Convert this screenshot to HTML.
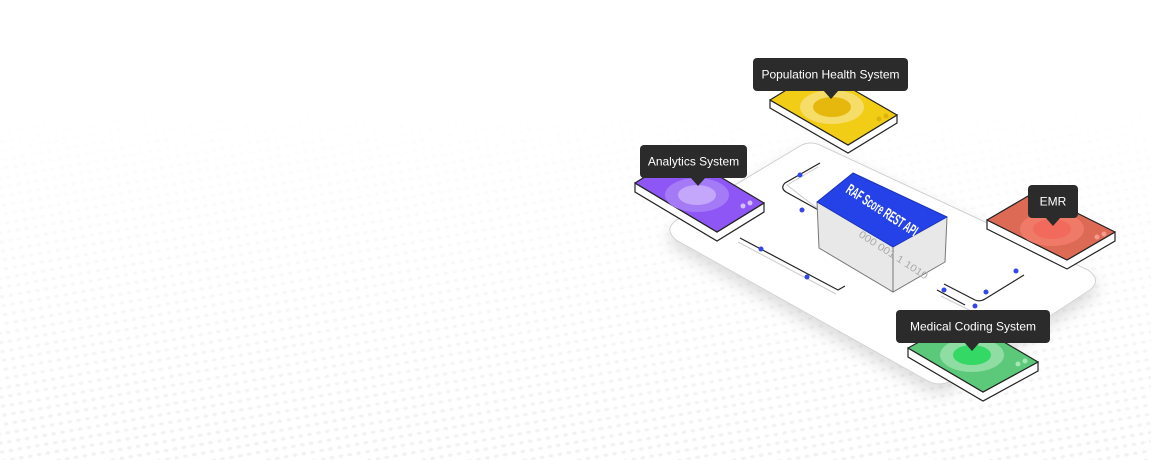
<!DOCTYPE html>
<html><head><meta charset="utf-8"><style>
html,body{margin:0;padding:0;background:#fff;}
svg{display:block}
text{font-family:"Liberation Sans",sans-serif;}
</style></head><body>
<svg width="1151" height="460" viewBox="0 0 1151 460" xmlns="http://www.w3.org/2000/svg">
<defs>
<pattern id="dots" width="9" height="9" patternUnits="userSpaceOnUse" patternTransform="rotate(-10)">
<ellipse cx="4.5" cy="4.5" rx="2.4" ry="1.7" fill="#ececec"/>
</pattern>
<linearGradient id="fade" x1="0" y1="0" x2="0" y2="1">
<stop offset="0.2" stop-color="#fff" stop-opacity="0"/>
<stop offset="1" stop-color="#fff" stop-opacity="1"/>
</linearGradient>
<mask id="m"><rect width="1151" height="460" fill="url(#fade)"/></mask>
<filter id="sh" x="-20%" y="-20%" width="140%" height="160%"><feDropShadow dx="0" dy="8" stdDeviation="8" flood-color="#000" flood-opacity="0.14"/></filter>
</defs>
<rect width="1151" height="460" fill="#fff"/>
<rect y="90" width="1151" height="370" fill="url(#dots)" mask="url(#m)" opacity="0.7"/>

<!-- platform -->
<path d="M680,218 L800,146 Q810,140 822,146 L1088,270 Q1102,280 1090,290 L952,380 Q940,388 926,380 L676,240 Q662,228 680,218 Z" fill="#fff" stroke="#d0d0d0" stroke-width="1" filter="url(#sh)"/>

<!-- connectors -->
<g fill="none" stroke="#222" stroke-width="1.2">
<path d="M820,163 L785,183 Q780,188 786,192 L840,222"/>
<path d="M740,238 L838,290 L845,286"/>
<path d="M944,284 L975,300 Q980,302 985,299 L1024,275"/>
<path d="M937,290 L965,305"/>
</g>
<g fill="none" stroke="#ccc" stroke-width="1">
<path d="M818,167 L787,185 L840,226"/>
<path d="M738,242 L836,294"/>
<path d="M941,296 L975,313"/>
</g>
<g fill="#3346e6">
<circle cx="800" cy="175" r="2.5"/><circle cx="802" cy="210" r="2.5"/>
<circle cx="761" cy="249" r="2.5"/><circle cx="807" cy="277" r="2.5"/>
<circle cx="986" cy="292" r="2.5"/><circle cx="1016" cy="271" r="2.5"/>
<circle cx="944" cy="290" r="2.5"/><circle cx="975" cy="306" r="2.5"/>
</g>

<!-- central box -->
<path d="M817,202 L819,248 L893,292 L945,262 L947,217 Z" fill="#e8e8e8" stroke="#777" stroke-width="1"/>
<path d="M893,247 L893,292" stroke="#777"/>
<text transform="translate(858,236) rotate(33)" font-size="10" fill="#aaa" font-family="Liberation Mono" textLength="80" lengthAdjust="spacingAndGlyphs">000 001 1 1010</text>
<path d="M817,202 L853,173 L947,217 L893,247 Z" fill="#2442e8" stroke="#1b33b5" stroke-linejoin="round"/>
<text transform="translate(845,192) rotate(33)" font-size="15" font-weight="bold" fill="#fff" textLength="82" lengthAdjust="spacingAndGlyphs">RAF Score REST API</text>

<!-- yellow -->
<g>
<path d="M770,100 L770,108 L848,153 L897,123 L897,115 L848,145 Z" fill="#fff" stroke="#222" stroke-width="1.2"/>
<path d="M770,100 L819,70 L897,115 L848,145 Z" fill="#f2cd16" stroke="#222" stroke-width="1.2" stroke-linejoin="round"/>
<ellipse cx="832" cy="107" rx="32" ry="17" fill="#f6dd6a"/>
<ellipse cx="832" cy="107" rx="19" ry="10" fill="#e6b80e"/>
<circle cx="879" cy="119" r="2.5" fill="#e0b20c"/><circle cx="886" cy="116" r="2.5" fill="#e0b20c"/>
</g>
<!-- purple -->
<g>
<path d="M635,183 L635,192 L717,241 L764,212 L764,203 L717,232 Z" fill="#fff" stroke="#222" stroke-width="1.2"/>
<path d="M635,183 L682,154 L764,203 L717,232 Z" fill="#8e57f5" stroke="#222" stroke-width="1.2" stroke-linejoin="round"/>
<ellipse cx="697" cy="195" rx="32" ry="17" fill="#a47af7"/>
<ellipse cx="697" cy="195" rx="19" ry="10" fill="#c4a6fa"/>
<circle cx="743" cy="206" r="2.5" fill="#d5c0fb"/><circle cx="750" cy="203" r="2.5" fill="#d5c0fb"/>
</g>
<!-- red -->
<g>
<path d="M987,220 L987,229 L1067,269 L1115,241 L1115,232 L1067,260 Z" fill="#fff" stroke="#222" stroke-width="1.2"/>
<path d="M987,220 L1035,192 L1115,232 L1067,260 Z" fill="#dd6a55" stroke="#222" stroke-width="1.2" stroke-linejoin="round"/>
<ellipse cx="1052" cy="229" rx="32" ry="17" fill="#ef7a68"/>
<ellipse cx="1052" cy="229" rx="19" ry="10" fill="#f26a5c"/>
<circle cx="1097" cy="237" r="2.5" fill="#f59a8c"/><circle cx="1104" cy="234" r="2.5" fill="#f59a8c"/>
</g>
<!-- green -->
<g>
<path d="M908,348 L908,357 L983,401 L1038,371 L1038,362 L983,392 Z" fill="#fff" stroke="#222" stroke-width="1.2"/>
<path d="M908,348 L963,318 L1038,362 L983,392 Z" fill="#5cc97a" stroke="#222" stroke-width="1.2" stroke-linejoin="round"/>
<ellipse cx="972" cy="355" rx="32" ry="17" fill="#8fdda2"/>
<ellipse cx="972" cy="355" rx="19" ry="10" fill="#33d865"/>
<circle cx="1018" cy="364" r="2.5" fill="#a5e6b4"/><circle cx="1025" cy="361" r="2.5" fill="#a5e6b4"/>
</g>

<!-- tooltips -->
<g fill="#2b2b2b">
<rect x="753" y="58" width="155" height="33" rx="4"/><path d="M823,90 L831,99 L839,90 Z"/>
<rect x="640" y="145" width="107" height="33" rx="4"/><path d="M690,177 L698,186 L706,177 Z"/>
<rect x="1028" y="185" width="50" height="33" rx="4"/><path d="M1045,217 L1053,226 L1061,217 Z"/>
<rect x="896" y="310" width="154" height="33" rx="4"/><path d="M964,342 L972,351 L980,342 Z"/>
</g>
<g fill="#fff" font-size="12" text-anchor="middle">
<text x="830.5" y="78.5">Population Health System</text>
<text x="693.5" y="165.5">Analytics System</text>
<text x="1053" y="205.5">EMR</text>
<text x="973" y="330.5">Medical Coding System</text>
</g>
</svg>
</body></html>
